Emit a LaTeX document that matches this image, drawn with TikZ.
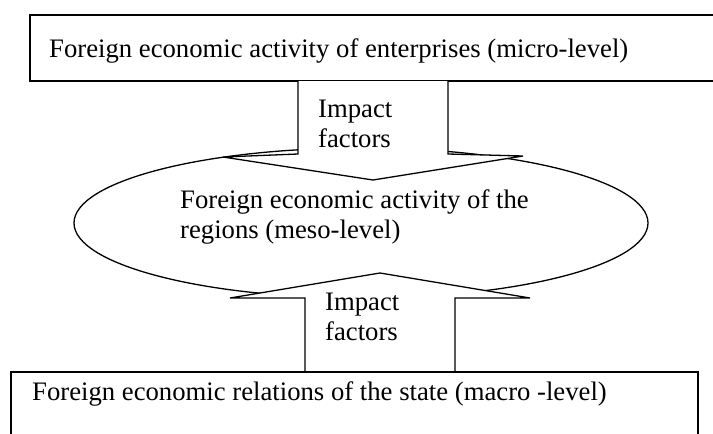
\documentclass[tikz,border=0pt]{standalone}
\usepackage{fontspec}
\setmainfont{Liberation Serif}
\usetikzlibrary{shapes.geometric}
\begin{document}
\begin{tikzpicture}[x=1pt,y=-1pt,
  outline/.style={draw=black,line width=1.3pt,line join=miter},
  lbl/.style={anchor=base west,inner sep=0pt,font=\fontsize{26.7}{30}\selectfont}]
\useasboundingbox (0,0) rectangle (713,434);
% ellipse (meso level)
\node[outline,fill=white,ellipse,minimum width=574pt,minimum height=150pt,inner sep=0pt] (meso) at (361,223) {};
% top box (micro level), its right edge lies beyond the picture
\draw[outline] (730,15) -- (30,15) -- (30,81) -- (730,81);
% top block arrow
\coordinate (a1tip) at (373,180);
\draw[outline,fill=white] (298,81) -- (298,154) -- (223,157) -- (a1tip) -- (523,156) -- (448,154) -- (448,81);
% bottom block arrow
\coordinate (a2tip) at (380,273);
\draw[outline,fill=white] (305,372) -- (305,298) -- (230,298) -- (a2tip) -- (530,298) -- (455,298) -- (455,372);
% bottom box (macro level), open at the bottom edge
\draw[outline] (11,440) -- (11,372) -- (698,372) -- (698,440);
% texts
\node[lbl] (tmicro) at (49,57) {Foreign economic activity of enterprises (micro-level)};
\node[lbl] (ti1) at (318,117) {Impact};
\node[lbl] (tf1) at (318,147) {factors};
\node[lbl] (tm1) at (180,208) {Foreign economic activity of the};
\node[lbl] (tm2) at (180,238) {regions (meso-level)};
\node[lbl] (ti2) at (325,310) {Impact};
\node[lbl] (tf2) at (325,340) {factors};
\node[lbl] (tmacro) at (32,400) {Foreign economic relations of the state (macro -level)};
\end{tikzpicture}
\end{document}
